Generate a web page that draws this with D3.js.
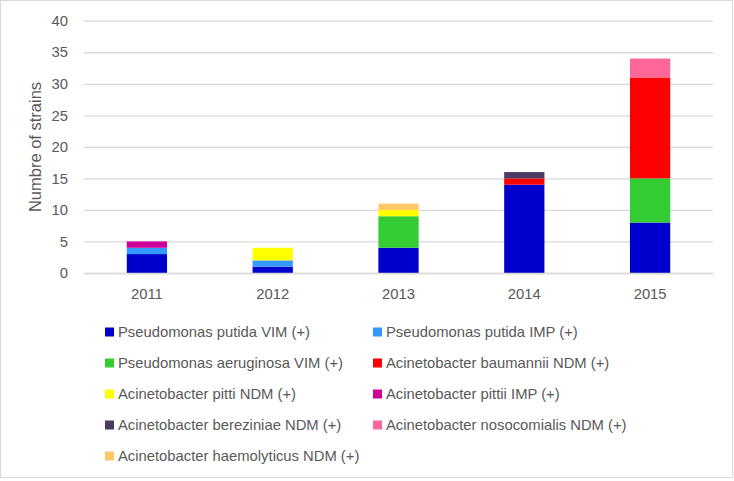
<!DOCTYPE html>
<html><head><meta charset="utf-8">
<script src="https://cdn.jsdelivr.net/npm/d3@7"></script>
<style>body{margin:0;background:#fff}svg{display:block}</style>
</head><body><svg id="c" width="734" height="481"></svg>
<script>
const years = ["2011","2012","2013","2014","2015"];
const seriesNames = [
  "Pseudomonas putida VIM (+)","Pseudomonas putida IMP (+)",
  "Pseudomonas aeruginosa VIM (+)","Acinetobacter baumannii NDM (+)",
  "Acinetobacter pitti NDM (+)","Acinetobacter pittii IMP (+)",
  "Acinetobacter bereziniae NDM (+)","Acinetobacter nosocomialis NDM (+)",
  "Acinetobacter haemolyticus NDM (+)"];
const putidaVIM      = [3,1,4,14,8];
const putidaIMP      = [1,1,0,0,0];
const aeruginosaVIM  = [0,0,5,0,7];
const baumanniiNDM   = [0,0,0,1,16];
const pittiNDM       = [0,2,1,0,0];
const pittiiIMP      = [1,0,0,0,0];
const bereziniaeNDM  = [0,0,0,1,0];
const nosocomialisNDM= [0,0,0,0,3];
const haemolyticusNDM= [0,0,1,0,0];
const yTicks = [0,5,10,15,20,25,30,35,40];
const colors = ["#0000CC","#3399FF","#33CC33","#FF0000","#FFFF00","#CC0099","#4B3A62","#FF6699","#FFC866"];

const seriesVals = [putidaVIM,putidaIMP,aeruginosaVIM,baumanniiNDM,pittiNDM,pittiiIMP,bereziniaeNDM,nosocomialisNDM,haemolyticusNDM];
const table = years.map((y,i)=>{const o={year:y};seriesNames.forEach((s,k)=>o[s]=seriesVals[k][i]);return o;});
const stacked = d3.stack().keys(seriesNames)(table);

const svg = d3.select("#c");
const font = "'Liberation Sans', Arial, sans-serif";
const txt = "#595959";
svg.append("rect").attr("x",0.5).attr("y",0.5).attr("width",732).attr("height",477).attr("fill","#fff").attr("stroke","#D9D9D9");

const x = d3.scaleBand().domain(years).range([84,713]).paddingInner(0.68).paddingOuter(0.34);
const y = d3.scaleLinear().domain([0,40]).range([273,20.7]);

const ya = svg.append("g").attr("transform","translate(84,0)")
  .call(d3.axisLeft(y).tickValues(yTicks).tickSize(-629).tickPadding(16));
ya.select(".domain").remove();
ya.selectAll(".tick line").attr("stroke","#D9D9D9").attr("stroke-width",1.3);
ya.selectAll(".tick text").attr("fill",txt).style("font-family",font).style("font-size","14.8px");

svg.append("g").selectAll("g").data(stacked).join("g").attr("fill",(d,i)=>colors[i])
  .selectAll("rect").data(d=>d.filter(p=>p[1]>p[0])).join("rect")
  .attr("x",d=>x(d.data.year)).attr("width",x.bandwidth())
  .attr("y",d=>y(d[1])).attr("height",d=>y(d[0])-y(d[1]));

const xa = svg.append("g").attr("transform","translate(0,273)")
  .call(d3.axisBottom(x).tickSize(0).tickPadding(15));
xa.select(".domain").attr("stroke","#D9D9D9").attr("stroke-width",1.3);
xa.selectAll(".tick text").attr("fill",txt).style("font-family",font).style("font-size","14.8px");

svg.append("text").attr("transform","translate(41,147) rotate(-90)").attr("text-anchor","middle")
  .attr("fill",txt).style("font-family",font).style("font-size","16.5px").text("Numbre of strains");

const leg = svg.append("g");
seriesNames.forEach((s,i)=>{
  const col=i%2,row=Math.floor(i/2);
  const lx = col===0?105:373, ly = 332+row*31;
  leg.append("rect").attr("x",lx).attr("y",ly-4.5).attr("width",9).attr("height",9).attr("fill",colors[i]);
  leg.append("text").attr("x",lx+13).attr("y",ly).attr("dy","0.35em").attr("fill",txt)
    .style("font-family",font).style("font-size","14.8px").text(s);
});
</script></body></html>
